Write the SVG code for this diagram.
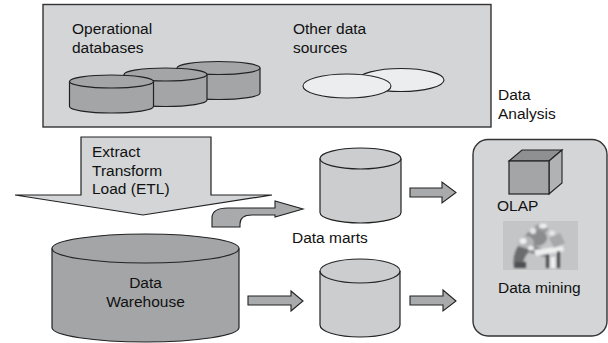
<svg xmlns="http://www.w3.org/2000/svg" width="608" height="343" viewBox="0 0 608 343">
  <defs>
    <style>
      .lbl { font-family: "Liberation Sans", Arial, sans-serif; font-size: 15.5px; fill: #111; }
      .panel { fill: #d3d5d7; stroke: #333; stroke-width: 1.4; }
      .dark { fill: #a3a5a7; stroke: #222; stroke-width: 1.2; }
      .light { fill: #cbcdcf; stroke: #222; stroke-width: 1.2; }
      .etl { fill: #d3d5d7; stroke: #222; stroke-width: 1.2; }
      .pale { fill: #ecedee; stroke: #222; stroke-width: 1.1; }
      .arrow { fill: #a8aaac; stroke: #222; stroke-width: 1.1; stroke-linejoin: miter; }
    </style>
    <filter id="soft" x="-10%" y="-10%" width="120%" height="120%">
      <feGaussianBlur stdDeviation="0.8"/>
    </filter>
  </defs>

  <rect width="608" height="343" fill="#ffffff"/>

  <!-- Source systems panel -->
  <g id="sources">
    <rect class="panel" x="43" y="4.5" width="448" height="122.5"/>
    <text class="lbl" x="72" y="34">Operational</text>
    <text class="lbl" x="72" y="52.5">databases</text>
    <text class="lbl" x="293" y="34">Other data</text>
    <text class="lbl" x="293" y="52.5">sources</text>

    <!-- operational database cylinders, back to front -->
    <g id="opdb3">
      <path class="dark" d="M177,68 L177,93 A41.5,6.5 0 0 0 260,93 L260,68"/>
      <ellipse class="dark" cx="218.5" cy="68" rx="41.5" ry="6.5"/>
    </g>
    <g id="opdb2">
      <path class="dark" d="M124,74.5 L124,100 A41.5,6.5 0 0 0 207,100 L207,74.5"/>
      <ellipse class="dark" cx="165.5" cy="74.5" rx="41.5" ry="6.5"/>
    </g>
    <g id="opdb1">
      <path class="dark" d="M69.5,81.5 L69.5,106.5 A42,6.5 0 0 0 153.5,106.5 L153.5,81.5"/>
      <ellipse class="dark" cx="111.5" cy="81.5" rx="42" ry="6.5"/>
    </g>

    <!-- other data source ellipses -->
    <ellipse class="pale" cx="401" cy="80" rx="43" ry="11.5"/>
    <ellipse class="pale" cx="347" cy="86" rx="44" ry="12"/>
  </g>

  <text class="lbl" x="498" y="100">Data</text>
  <text class="lbl" x="498" y="118.5">Analysis</text>

  <!-- ETL stage -->
  <g id="etl">
    <polygon class="etl" points="81,137 211,137 211,195 272,195 143,215 15,195 81,195"/>
    <text class="lbl" x="92" y="157">Extract</text>
    <text class="lbl" x="92" y="175.5">Transform</text>
    <text class="lbl" x="92" y="194">Load (ETL)</text>
  </g>

  <!-- Data warehouse -->
  <g id="warehouse">
    <path class="dark" d="M52,248.5 L52,327.5 A93.5,14.5 0 0 0 239,327.5 L239,248.5"/>
    <ellipse class="dark" cx="145.5" cy="248.5" rx="93.5" ry="14.5"/>
    <text class="lbl" x="145.5" y="288" text-anchor="middle">Data</text>
    <text class="lbl" x="145.5" y="307" text-anchor="middle">Warehouse</text>
  </g>

  <!-- Data marts -->
  <g id="mart-upper">
    <path class="light" d="M320,158.5 L320,212.5 A40.5,10.5 0 0 0 401,212.5 L401,158.5"/>
    <ellipse class="light" cx="360.5" cy="158.5" rx="40.5" ry="10.5"/>
  </g>
  <g id="mart-lower">
    <path class="light" d="M320,271 L320,325 A40,12 0 0 0 400,325 L400,271"/>
    <ellipse class="light" cx="360" cy="271" rx="40" ry="12"/>
  </g>
  <text class="lbl" x="292" y="243">Data marts</text>

  <!-- Analysis tools -->
  <g id="analysis">
    <rect class="panel" x="473" y="139.5" width="134" height="196.5" rx="15" ry="15"/>

    <g id="olap">
      <polygon points="509,161 522,150 562,150 549,161" fill="#8e9092" stroke="#222" stroke-width="1.1"/>
      <polygon points="549,161 562,150 562,183 549,194" fill="#b0b2b4" stroke="#222" stroke-width="1.1"/>
      <rect x="509" y="161" width="40" height="33" fill="#a3a5a7" stroke="#222" stroke-width="1.2"/>
      <text class="lbl" x="497" y="211">OLAP</text>
    </g>

    <g id="mining">
      <rect x="503" y="221" width="75" height="49" fill="#c3c5c7"/>
      <g filter="url(#soft)">
        <!-- worker bent over a desk -->
        <ellipse cx="541" cy="229" rx="7" ry="5" fill="#9a9c9e"/>
        <ellipse cx="543" cy="226" rx="4" ry="2.5" fill="#eef0f0"/>
        <ellipse cx="536" cy="238" rx="11" ry="8" fill="#8a8c8e"/>
        <ellipse cx="526" cy="243" rx="8" ry="7" fill="#b4b6b8"/>
        <ellipse cx="523" cy="241" rx="3.5" ry="3" fill="#f0f2f2"/>
        <path d="M518,246 Q512,256 514,267 L523,267 Q522,257 531,250 Z" fill="#6a6c6e"/>
        <path d="M515,262 L526,262 L526,268 L514,268 Z" fill="#4e5052"/>
        <path d="M531,245 L550,251 L548,258 L528,252 Z" fill="#808284"/>
        <path d="M534,250 L563,246 L564,251 L536,256 Z" fill="#eef0f0"/>
        <rect x="546" y="254" width="3" height="14" fill="#4a4c4e"/>
        <rect x="557" y="251" width="3" height="17" fill="#4a4c4e"/>
        <path d="M549,238 L560,233 L565,243 L554,248 Z" fill="#a6a8aa"/>
        <ellipse cx="552" cy="233" rx="3" ry="2.5" fill="#e8eaea"/>
        <rect x="551" y="257" width="4" height="11" fill="#f2f2f2"/>
        <ellipse cx="533" cy="231" rx="3" ry="3" fill="#e6e8e8"/>
        <ellipse cx="531" cy="248" rx="3" ry="2.5" fill="#eceeee"/>
      </g>
      <text class="lbl" x="498" y="293">Data mining</text>
    </g>
  </g>

  <!-- Flow arrows -->
  <g id="connectors">
    <path class="arrow" d="M212,227 L212,218 Q212,208 228,208 L275,208 L275,201 L303,209 L275,217 L275,215 L252,215 Q240,215 240,224 L240,227 Z"/>
    <polygon class="arrow" points="248,296 291,296 291,291 303,301 291,311 291,305 248,305"/>
    <polygon class="arrow" points="410,188 442,188 442,182 456,192.5 442,203 442,197 410,197"/>
    <polygon class="arrow" points="410,296 443,296 443,290 456,301 443,311 443,305 410,305"/>
  </g>
</svg>
